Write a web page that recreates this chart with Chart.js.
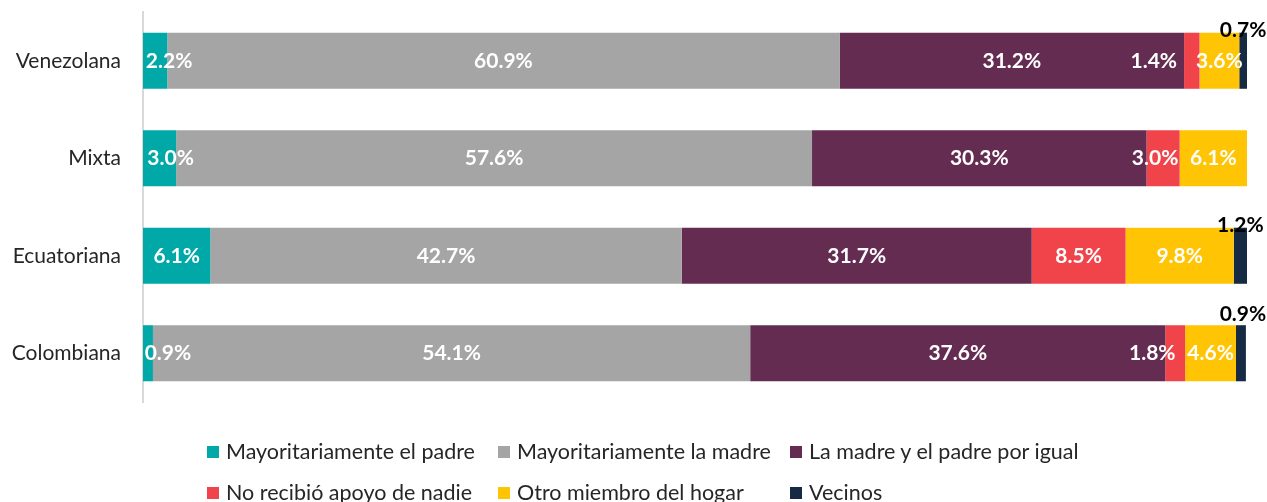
<!DOCTYPE html>
<html>
<head>
<meta charset="utf-8">
<script src="https://cdn.jsdelivr.net/npm/chart.js@4.4.1/dist/chart.umd.min.js"></script>
<style>
  html, body { margin: 0; padding: 0; background: #fff; }
  #wrap { position: relative; width: 1267px; height: 502px; overflow: hidden; }
  #legend { position: absolute; left: 207px; top: 440px; font-family: Lato, "Open Sans", sans-serif; font-size: 21.5px; color: #262626; }
  .item { position: absolute; display: flex; align-items: center; white-space: nowrap; line-height: 23px; }
  .box { width: 12px; height: 12px; margin-right: 7px; flex: none; }
</style>
</head>
<body>
<div id="wrap">
  <canvas id="c" width="1267" height="502"></canvas>
  <div id="legend"></div>
</div>
<script>
const categories = ["Venezolana", "Mixta", "Ecuatoriana", "Colombiana"];
const seriesNames = [
  "Mayoritariamente el padre",
  "Mayoritariamente la madre",
  "La madre y el padre por igual",
  "No recibió apoyo de nadie",
  "Otro miembro del hogar",
  "Vecinos"
];
const padre   = [2.2, 3.0, 6.1, 0.9];
const madre   = [60.9, 57.6, 42.7, 54.1];
const ambos   = [31.2, 30.3, 31.7, 37.6];
const nadie   = [1.4, 3.0, 8.5, 1.8];
const otro    = [3.6, 6.1, 9.8, 4.6];
const vecinos = [0.7, 0, 1.2, 0.9];

const seriesValues = [padre, madre, ambos, nadie, otro, vecinos];
const colors = ["#00A9A8", "#A5A5A5", "#652C52", "#F0434A", "#FFC403", "#172A44"];

// label placement tweaks (style only): key "series-category"
const labelOffsets = {
  "0-0": {dx: 14}, "0-1": {dx: 11}, "0-3": {dx: 20},
  "3-0": {dx: -38}, "3-1": {dx: -8}, "3-3": {dx: -23},
  "5-0": {dy: -31, color: "#000"}, "5-2": {dy: -31, color: "#000"}, "5-3": {dy: -39, dx: 2, color: "#000"}
};

const FONT = 'Lato, "Open Sans", sans-serif';

const labelPlugin = {
  id: 'segLabels',
  afterDatasetsDraw(chart) {
    const ctx = chart.ctx;
    ctx.save();
    ctx.font = 'bold 21px ' + FONT;
    ctx.textAlign = 'center';
    ctx.textBaseline = 'middle';
    chart.data.datasets.forEach((ds, si) => {
      const meta = chart.getDatasetMeta(si);
      meta.data.forEach((el, ci) => {
        const v = ds.data[ci];
        if (!v) return;
        const off = labelOffsets[si + '-' + ci] || {};
        const x = (el.x + el.base) / 2 + (off.dx || 0);
        const y = el.y + (off.dy || 0);
        ctx.fillStyle = off.color || '#fff';
        ctx.fillText(v.toFixed(1) + '%', x, y);
      });
    });
    ctx.restore();
  }
};

const datasets = seriesNames.map((name, i) => ({
  label: name,
  data: seriesValues[i],
  backgroundColor: colors[i],
  borderWidth: 0,
  categoryPercentage: 1,
  barPercentage: 0.575
}));

new Chart(document.getElementById('c'), {
  type: 'bar',
  data: { labels: categories, datasets },
  options: {
    indexAxis: 'y',
    responsive: false,
    animation: false,
    layout: { padding: { top: 12, bottom: 100, right: 20, left: 0 } },
    plugins: { legend: { display: false }, tooltip: { enabled: false } },
    scales: {
      x: { stacked: true, min: 0, max: 100, display: false },
      y: {
        stacked: true,
        grid: { display: false, drawTicks: false },
        border: { display: true, color: '#D9D9D9', width: 2 },
        ticks: { color: '#262626', font: { family: FONT, size: 21 }, padding: 22 },
        afterFit(scale) { scale.width = 143; scale.paddingTop = 0; scale.paddingBottom = 0; }
      }
    }
  },
  plugins: [labelPlugin]
});

// HTML legend built from series names & colors
const legend = document.getElementById('legend');
const colX = [0, 291, 583];
const rowY = [0, 41];
seriesNames.forEach((name, i) => {
  const item = document.createElement('div');
  item.className = 'item';
  item.style.left = colX[i % 3] + 'px';
  item.style.top = rowY[Math.floor(i / 3)] + 'px';
  const box = document.createElement('span');
  box.className = 'box';
  box.style.background = colors[i];
  const txt = document.createElement('span');
  txt.textContent = name;
  item.appendChild(box);
  item.appendChild(txt);
  legend.appendChild(item);
});
</script>
</body>
</html>
